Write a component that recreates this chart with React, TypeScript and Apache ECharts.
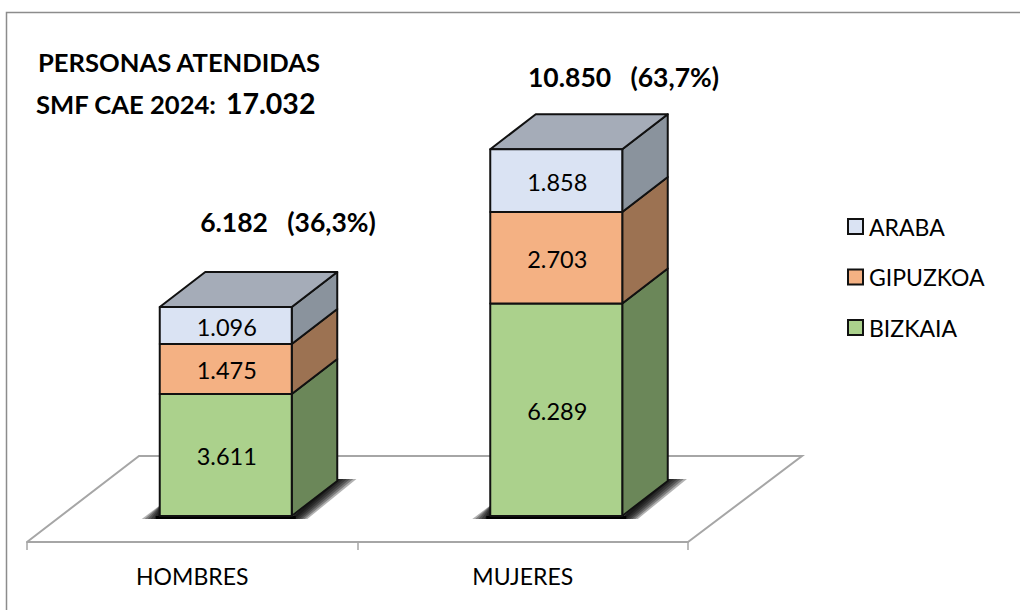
import React, { useEffect, useRef } from "react";
import * as echarts from "echarts";

const categories = ["HOMBRES", "MUJERES"];
const bizkaia = [3611, 6289];
const gipuzkoa = [1475, 2703];
const araba = [1096, 1858];
const totals = ["6.182   (36,3%)", "10.850   (63,7%)"];
const fmt = (v: number) => String(v).replace(/(\d)(\d{3})$/, "$1.$2");

const FONT = "Lato";
const W = 132, DX = 45.5, DY = -35, SHIFT = 33.5;
const palette = {
  BIZKAIA: { front: "#ABD18C", side: "#6B8759" },
  GIPUZKOA: { front: "#F4B183", side: "#9C7252" },
  ARABA: { front: "#DAE3F3", side: "#8A939D", top: "#A5ACB8" },
};

function segment(name: keyof typeof palette, values: number[], bases: number[], isTop: boolean, isBottom: boolean) {
  const c: any = palette[name];
  return {
    name,
    type: "custom",
    z: 3,
    coordinateSystem: "cartesian2d",
    itemStyle: { color: c.front, borderColor: "#000", borderWidth: 2 },
    encode: { x: 0, y: [1, 2] },
    data: values.map((v, i) => [i, bases[i], bases[i] + v, v]),
    renderItem: (_: any, api: any) => {
      const low = api.coord([api.value(0), api.value(1)]);
      const high = api.coord([api.value(0), api.value(2)]);
      const l = low[0] + SHIFT - W / 2, r = l + W;
      const line = { stroke: "#111", lineWidth: 2, lineJoin: "round" };
      const children: any[] = [];
      if (isBottom) {
        const b = low[1];
        const soft = "rgba(0,0,0,0.3)";
        for (let k = 6; k >= 1; k--) {
          children.push({
            type: "polygon",
            shape: { points: [[l + 2, b + 3], [l - k * 3, b + 3], [l + 2, b - 12]] },
            style: { fill: soft },
          });
          children.push({
            type: "polygon",
            shape: { points: [[r - 2, b + 3], [r + k * 2.6, b + 3], [r + DX + k * 3.2, b + DY - 2], [r + DX, b + DY - 2]] },
            style: { fill: soft },
          });
        }
        children.push({
          type: "rect",
          shape: { x: l - 4, y: b, width: W + 8, height: 3 },
          style: { fill: "#000" },
        });
      }
      children.push({
        type: "polygon",
        shape: { points: [[r, low[1]], [r + DX, low[1] + DY], [r + DX, high[1] + DY], [r, high[1]]] },
        style: { fill: c.side, ...line },
      });
      if (isTop) {
        children.push({
          type: "polygon",
          shape: { points: [[l, high[1]], [l + DX, high[1] + DY], [r + DX, high[1] + DY], [r, high[1]]] },
          style: { fill: c.top, ...line },
        });
      }
      children.push({
        type: "rect",
        shape: { x: l, y: high[1], width: W, height: low[1] - high[1] },
        style: { fill: c.front, ...line },
      });
      children.push({
        type: "text",
        style: {
          x: (l + r) / 2 + 1, y: (low[1] + high[1]) / 2 + 1,
          text: fmt(api.value(3)), fill: "#000",
          font: `23.5px ${FONT}`, align: "center", verticalAlign: "middle",
        },
      });
      return { type: "group", children };
    },
  };
}

export default function App() {
  const ref = useRef<HTMLDivElement>(null);
  useEffect(() => {
    document.body.style.margin = "0";
    const chart = echarts.init(ref.current!, undefined, { renderer: "svg" });
    const bases2 = bizkaia.map((v) => v);
    const bases3 = bizkaia.map((v, i) => v + gipuzkoa[i]);
    const bold = (text: string, x: number, y: number, size: number, align = "left") => ({
      type: "text", z: 5, x, y,
      style: { text, fill: "#000", font: `bold ${size}px ${FONT}`, align, verticalAlign: "middle" },
    });
    chart.setOption({
      animation: false,
      backgroundColor: "#fff",
      grid: { left: 27, right: 1021 - 688, top: 110.4, bottom: 68 },
      xAxis: {
        type: "category",
        data: categories,
        axisLine: { onZero: false, lineStyle: { color: "#A6A6A6", width: 2 } },
        axisTick: { show: true, length: 8, lineStyle: { color: "#A6A6A6", width: 1.5 } },
        axisLabel: { color: "#000", fontFamily: FONT, fontSize: 23, margin: 22 },
      },
      yAxis: { type: "value", min: -770, max: 12000, show: false, splitLine: { show: false } },
      legend: {
        orient: "vertical",
        left: 842, top: 210,
        itemWidth: 15, itemHeight: 15, itemGap: 27.5,
        data: ["ARABA", "GIPUZKOA", "BIZKAIA"],
        icon: "rect",
        selectedMode: false,
        itemStyle: { borderColor: "#111", borderWidth: 2 },
        textStyle: { color: "#000", fontFamily: FONT, fontSize: 23, padding: [0, 0, 0, 1] },
      },
      graphic: [
        { type: "polyline", z: 0, shape: { points: [[6.5, 610], [6.5, 12.5], [1020, 12.5]] }, style: { fill: "none", stroke: "#8C8C8C", lineWidth: 1.5 } },
        { type: "polyline", z: 1, shape: { points: [[27, 542], [139, 456], [802, 456], [688, 542]] }, style: { fill: "none", stroke: "#A6A6A6", lineWidth: 2 } },
        bold("PERSONAS ATENDIDAS", 179, 62, 25.6, "center"),
        bold("SMF CAE 2024:", 36, 104, 25.6),
        bold("17.032", 226, 103, 28.5),
        bold(totals[0], 288, 222, 26.5, "center"),
        bold(totals[1], 623.5, 77, 26.5, "center"),
      ],
      series: [
        segment("BIZKAIA", bizkaia, [0, 0], false, true),
        segment("GIPUZKOA", gipuzkoa, bases2, false, false),
        segment("ARABA", araba, bases3, true, false),
      ],
    });
    return () => chart.dispose();
  }, []);
  return <div ref={ref} style={{ width: 1021, height: 610, overflow: "hidden" }} />;
}
